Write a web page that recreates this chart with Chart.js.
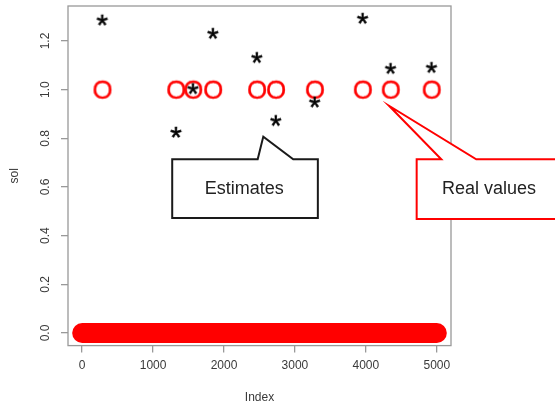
<!DOCTYPE html>
<html>
<head>
<meta charset="utf-8">
<script src="https://cdn.jsdelivr.net/npm/chart.js@4.4.0/dist/chart.umd.min.js"></script>
<style>
  html, body { margin: 0; padding: 0; background: #fff; }
  #wrap { width: 555px; height: 410px; }
</style>
</head>
<body>
<div id="wrap"><canvas id="solChart" width="555" height="410"></canvas></div>
<script>
// --- data ---
const realIdx = [286, 1326, 1565, 1846, 2466, 2733, 3281, 3956, 4350, 4927];
const realVals = [1, 1, 1, 1, 1, 1, 1, 1, 1, 1];
const estVals = [1.285, 0.824, 1.003, 1.230, 1.131, 0.872, 0.948, 1.292, 1.086, 1.090];
// all other indices are 0 -> drawn as one thick red band
const zeroIdx = [1, 5000];
const zeroVals = [0, 0];

const xTicks = [0, 1000, 2000, 3000, 4000, 5000];
const xTickLabels = ['0', '1000', '2000', '3000', '4000', '5000'];
const yTicks = [0, 0.2, 0.4, 0.6, 0.8, 1.0, 1.2];
const yTickLabels = ['0.0', '0.2', '0.4', '0.6', '0.8', '1.0', '1.2'];

const FONT = '"Liberation Sans", Arial, sans-serif';
const AXIS_GREY = '#999999';
const TEXT_GREY = '#3a3a3a';

// character markers like R's pch = "O" / "*"
function glyph(ch, color, size, stroke) {
  const c = document.createElement('canvas');
  let m = c.getContext('2d');
  m.font = size + 'px ' + FONT;
  const tm = m.measureText(ch);
  const w = Math.ceil(tm.actualBoundingBoxLeft + tm.actualBoundingBoxRight) + 4;
  const h = Math.ceil(tm.actualBoundingBoxAscent + tm.actualBoundingBoxDescent) + 4;
  c.width = w; c.height = h;
  m = c.getContext('2d');
  m.font = size + 'px ' + FONT;
  m.fillStyle = color;
  m.strokeStyle = color;
  m.lineWidth = stroke;
  m.fillText(ch, 2 + tm.actualBoundingBoxLeft, 2 + tm.actualBoundingBoxAscent);
  if (stroke > 0) m.strokeText(ch, 2 + tm.actualBoundingBoxLeft, 2 + tm.actualBoundingBoxAscent);
  return c;
}
const ringMark = glyph('O', '#ff0000', 26, 0.3);
const starMark = glyph('*', '#000000', 30, 0.5);

// callouts (in data units)
const callouts = [
  { text: 'Estimates', color: '#1a1a1a', x0: 1270, x1: 3323, y0: 0.714, y1: 0.473,
    base0: 2475, base1: 2976, tipX: 2554, tipY: 0.807, tx: 2287, ty: 0.59, align: 'center' },
  { text: 'Real values', color: '#ff0000', x0: 4716, x1: 7200, y0: 0.714, y1: 0.469,
    base0: 5063, base1: 5556, tipX: 4326, tipY: 0.934, tx: 5072, ty: 0.59, align: 'left' }
];

const boxPlugin = {
  id: 'boxPlugin',
  beforeDatasetsDraw(chart) {
    const { ctx, chartArea: a } = chart;
    ctx.save();
    ctx.strokeStyle = AXIS_GREY;
    ctx.lineWidth = 1.3;
    ctx.strokeRect(a.left, a.top, a.right - a.left, a.bottom - a.top);
    ctx.restore();
  },
  afterDraw(chart) {
    const { ctx } = chart;
    const xs = chart.scales.x, ys = chart.scales.y;
    callouts.forEach(c => {
      const X = v => xs.getPixelForValue(v);
      const Y = v => ys.getPixelForValue(v);
      ctx.save();
      ctx.beginPath();
      ctx.moveTo(X(c.x0), Y(c.y0));
      ctx.lineTo(X(c.base0), Y(c.y0));
      ctx.lineTo(X(c.tipX), Y(c.tipY));
      ctx.lineTo(X(c.base1), Y(c.y0));
      ctx.lineTo(X(c.x1), Y(c.y0));
      ctx.lineTo(X(c.x1), Y(c.y1));
      ctx.lineTo(X(c.x0), Y(c.y1));
      ctx.closePath();
      ctx.fillStyle = '#ffffff';
      ctx.fill();
      ctx.lineWidth = 2;
      ctx.lineJoin = 'miter';
      ctx.strokeStyle = c.color;
      ctx.stroke();
      ctx.fillStyle = '#222222';
      ctx.font = '18px ' + FONT;
      ctx.textAlign = c.align;
      ctx.textBaseline = 'middle';
      ctx.fillText(c.text, X(c.tx), Y(c.ty));
      ctx.restore();
    });
  }
};

const ctx = document.getElementById('solChart').getContext('2d');
new Chart(ctx, {
  type: 'scatter',
  data: {
    datasets: [
      {
        label: 'estimates',
        data: realIdx.map((x, i) => ({ x: x, y: estVals[i] })),
        pointStyle: starMark,
        pointRadius: 6
      },
      {
        label: 'real',
        data: realIdx.map((x, i) => ({ x: x, y: realVals[i] })),
        pointStyle: ringMark,
        pointRadius: 10
      },
      {
        label: 'zeros',
        type: 'line',
        data: zeroIdx.map((x, i) => ({ x: x, y: zeroVals[i] })),
        borderColor: '#ff0000',
        borderWidth: 20,
        borderCapStyle: 'round',
        pointRadius: 0,
        fill: false
      }
    ]
  },
  options: {
    responsive: false,
    animation: false,
    devicePixelRatio: 1,
    layout: { autoPadding: false, padding: { left: 0, top: 6, right: 104, bottom: 0 } },
    plugins: { legend: { display: false }, tooltip: { enabled: false } },
    scales: {
      x: {
        type: 'linear',
        min: -198.96,
        max: 5199.96,
        afterBuildTicks: s => { s.ticks = xTicks.map(v => ({ value: v })); },
        afterFit: s => { s.height = 64.4; s.paddingLeft = 0; s.paddingRight = 0; },
        grid: { display: true, drawOnChartArea: false, drawTicks: true, tickLength: 7, color: AXIS_GREY, lineWidth: 1.3 },
        border: { display: false },
        ticks: {
          color: TEXT_GREY, padding: 6, maxRotation: 0, autoSkip: false,
          font: { family: FONT, size: 12 },
          callback: v => xTickLabels[xTicks.indexOf(v)]
        },
        title: { display: true, text: 'Index', color: TEXT_GREY, font: { family: FONT, size: 12 }, padding: { top: 0, bottom: 5 } }
      },
      y: {
        type: 'linear',
        min: -0.0517,
        max: 1.3437,
        afterBuildTicks: s => { s.ticks = yTicks.map(v => ({ value: v })); },
        afterFit: s => { s.width = 68; s.paddingTop = 0; s.paddingBottom = 0; },
        grid: { display: true, drawOnChartArea: false, drawTicks: true, tickLength: 7, color: AXIS_GREY, lineWidth: 1.3 },
        border: { display: false },
        ticks: {
          color: TEXT_GREY, padding: 7, minRotation: 90, maxRotation: 90, crossAlign: 'center', autoSkip: false,
          font: { family: FONT, size: 12 },
          callback: v => yTickLabels[yTicks.indexOf(v)]
        },
        title: { display: true, text: 'sol', color: TEXT_GREY, font: { family: FONT, size: 12 }, padding: { top: 7, bottom: 0 } }
      }
    }
  },
  plugins: [boxPlugin]
});
</script>
</body>
</html>
